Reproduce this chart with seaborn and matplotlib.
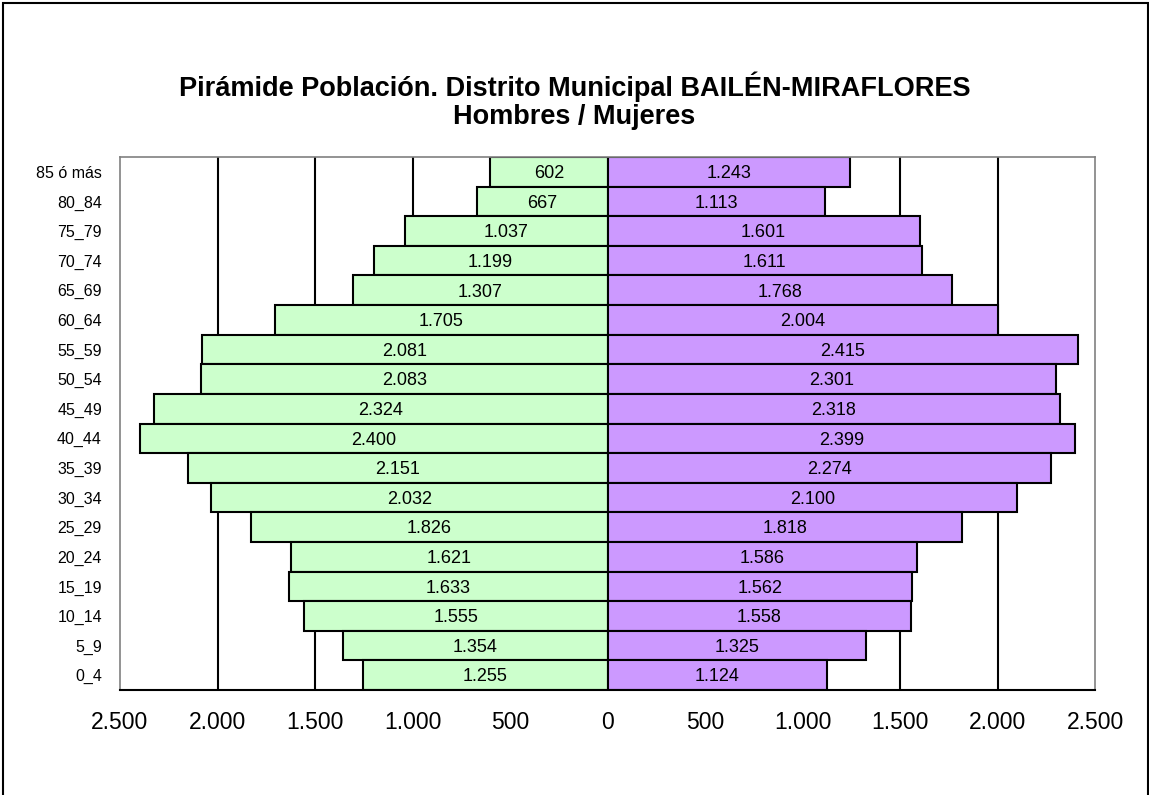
import numpy as np
import pandas as pd
import matplotlib
matplotlib.use('Agg')
import matplotlib.pyplot as plt
import seaborn as sns

# Age groups, top to bottom
grupos = ['85 ó más', '80_84', '75_79', '70_74', '65_69', '60_64', '55_59', '50_54',
          '45_49', '40_44', '35_39', '30_34', '25_29', '20_24', '15_19', '10_14', '5_9', '0_4']
hombres = [602, 667, 1037, 1199, 1307, 1705, 2081, 2083, 2324, 2400, 2151, 2032,
           1826, 1621, 1633, 1555, 1354, 1255]
mujeres = [1243, 1113, 1601, 1611, 1768, 2004, 2415, 2301, 2318, 2399, 2274, 2100,
           1818, 1586, 1562, 1558, 1325, 1124]
xticks = [-2500, -2000, -1500, -1000, -500, 0, 500, 1000, 1500, 2000, 2500]

def fmt(v):
    return f'{abs(int(v)):,}'.replace(',', '.')

sns.set_style('white')
plt.rcParams['font.family'] = ['Liberation Sans', 'DejaVu Sans']
plt.rcParams['text.color'] = 'black'
plt.rcParams['xtick.color'] = 'black'
plt.rcParams['ytick.color'] = 'black'

fig = plt.figure(figsize=(11.49, 7.95), dpi=100)
ax = fig.add_axes([120 / 1149, 1 - 690 / 795, 975 / 1149, 533 / 795])

# vertical grid lines
for t in xticks[1:-1]:
    if t != 0:
        ax.axvline(t, color='black', lw=1.5, zorder=0)

df_h = pd.DataFrame({'grupo': grupos, 'valor': [-v for v in hombres]})
df_m = pd.DataFrame({'grupo': grupos, 'valor': mujeres})
sns.barplot(data=df_h, x='valor', y='grupo', order=grupos, color='#CCFFCC',
            saturation=1, width=1.0, edgecolor='black', linewidth=1.5, ax=ax, zorder=2)
sns.barplot(data=df_m, x='valor', y='grupo', order=grupos, color='#CC99FF',
            saturation=1, width=1.0, edgecolor='black', linewidth=1.5, ax=ax, zorder=2)

for i, (h, m) in enumerate(zip(hombres, mujeres)):
    ax.text(-h / 2, i + 0.06, fmt(h), ha='center', va='center', fontsize=13, zorder=3)
    ax.text(m / 2, i + 0.06, fmt(m), ha='center', va='center', fontsize=13, zorder=3)

ax.set_xlim(-2500, 2500)
ax.set_ylim(len(grupos) - 0.5, -0.5)
ax.set_xticks(xticks)
ax.set_xticklabels([fmt(t) for t in xticks], fontsize=16.5)
ax.tick_params(axis='x', direction='out', length=6, width=1.5, color='black',
               labelcolor='black', pad=9)
ax.tick_params(axis='y', length=0, labelsize=11.5, labelcolor='black', pad=13)
ax.set_xlabel('')
ax.set_ylabel('')
for s in ['top', 'left', 'right']:
    ax.spines[s].set_color('#808080')
    ax.spines[s].set_linewidth(1.2)
ax.spines['bottom'].set_color('black')
ax.spines['bottom'].set_linewidth(1.5)

fig.text(0.5, 1 - 87 / 795, 'Pirámide Población. Distrito Municipal BAILÉN-MIRAFLORES',
         ha='center', va='center', fontsize=19.5, fontweight='bold', color='black')
fig.text(0.5, 1 - 117 / 795, 'Hombres / Mujeres',
         ha='center', va='center', fontsize=19.5, fontweight='bold', color='black')

# outer frame
fig.patches.append(plt.Rectangle((3 / 1149, -0.01), 1 - 4 / 1149, 1.01 - 3 / 795,
                                 transform=fig.transFigure, fill=False,
                                 edgecolor='black', lw=1.5))

fig.savefig('out.png', dpi=100)
